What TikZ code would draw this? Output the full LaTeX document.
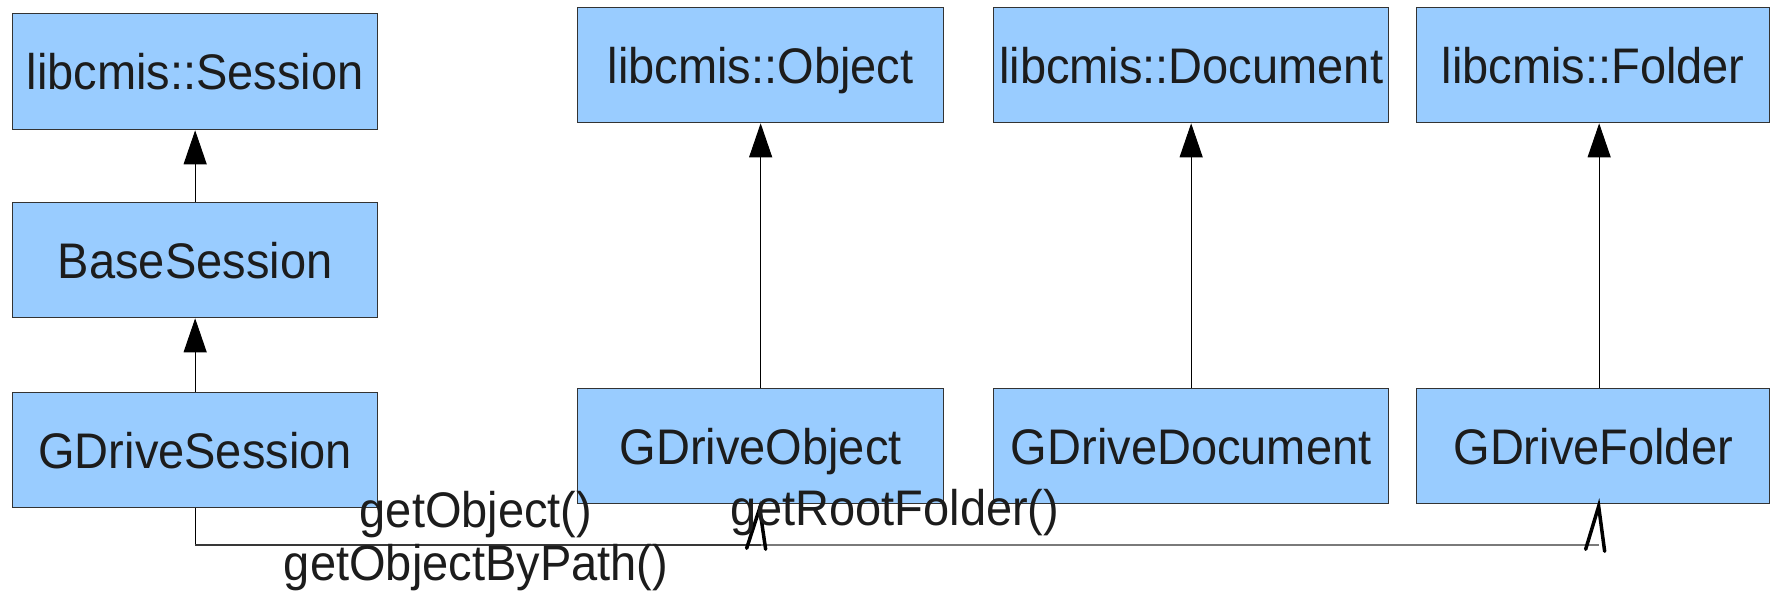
\documentclass[tikz,border=0pt]{standalone}
\usepackage{fontspec}
\setmainfont{Liberation Sans}
\newfontfamily\narrowsans[FakeStretch=0.94]{Liberation Sans}
\usetikzlibrary{arrows.meta,calc}
\definecolor{boxfill}{HTML}{99CCFF}
\definecolor{boxline}{HTML}{333333}
\definecolor{txt}{HTML}{1C1C1C}
\begin{document}
\begin{tikzpicture}[x=1pt,y=-1pt,
  box/.style={draw=boxline,line width=1.3pt,fill=boxfill,rectangle,inner sep=0pt,
    anchor=north west,text=txt,text height=36pt,text depth=0pt,
    font=\narrowsans\fontsize{50}{58}\selectfont},
  inh/.style={draw=black,line width=1pt,-{Triangle[length=34pt,width=23pt]}},
  lbl/.style={text=txt,inner sep=0pt,font=\narrowsans\fontsize{50}{58}\selectfont},
  hdark/.style={draw=black!78,line width=2pt},
  hgray/.style={draw=black!52,line width=2pt},
  openhead/.style={draw=black,line width=3.5pt,line cap=round,line join=miter}]
\useasboundingbox[fill=white] (0,0) rectangle (1770,596);
% top row
\node[box,minimum width=365pt,minimum height=116pt] (sess) at (12,13) {libcmis::Session};
\node[box,minimum width=366pt,minimum height=115pt] (obj) at (577,7) {libcmis::Object};
\node[box,minimum width=395pt,minimum height=115pt] (doc) at (993,7) {libcmis::Document};
\node[box,minimum width=353pt,minimum height=115pt] (fold) at (1416,7) {libcmis::Folder};
% middle
\node[box,minimum width=365pt,minimum height=115pt] (base) at (12,202) {BaseSession};
% bottom row
\node[box,minimum width=365pt,minimum height=115pt] (gsess) at (12,392) {GDriveSession};
\node[box,minimum width=366pt,minimum height=115pt] (gobj) at (577,388) {GDriveObject};
\node[box,minimum width=395pt,minimum height=115pt] (gdoc) at (993,388) {GDriveDocument};
\node[box,minimum width=353pt,minimum height=115pt] (gfold) at (1416,388) {GDriveFolder};
% inheritance
\draw[inh] (base.north) -- (sess.south);
\draw[inh] (gsess.north) -- (base.south);
\draw[inh] (gobj.north) -- (obj.south);
\draw[inh] (gdoc.north) -- (doc.south);
\draw[inh] ($(gfold.north)+(6,0)$) -- ($(fold.south)+(6,0)$);
% usage connectors
\coordinate (lvl) at (0,545);
\coordinate (ftip) at ($(gfold.south)+(6,0)$);
\draw[draw=black,line width=1pt] (gsess.south) -- (gsess.south |- lvl);
\draw[hgray] (gsess.south |- lvl) -- (ftip |- lvl);
\draw[hdark] (gsess.south |- lvl) -- (gobj.south |- lvl);
\draw[openhead] ($(gobj.south)+(-14,44)$) -- ($(gobj.south)+(-1,4)$) -- ($(gobj.south)+(5,45)$);
\draw[openhead] ($(gfold.south)+(-7.5,45)$) -- ($(gfold.south)+(5.5,2)$) -- ($(gfold.south)+(11.5,47)$);
% labels
\node[lbl,anchor=base] (l1) at (476,527) {getObject()};
\node[lbl,anchor=base] (l2) at (476,580) {getObjectByPath()};
\node[lbl,anchor=base west] (l3) at (730,525) {getRootFolder()};
\end{tikzpicture}
\end{document}
